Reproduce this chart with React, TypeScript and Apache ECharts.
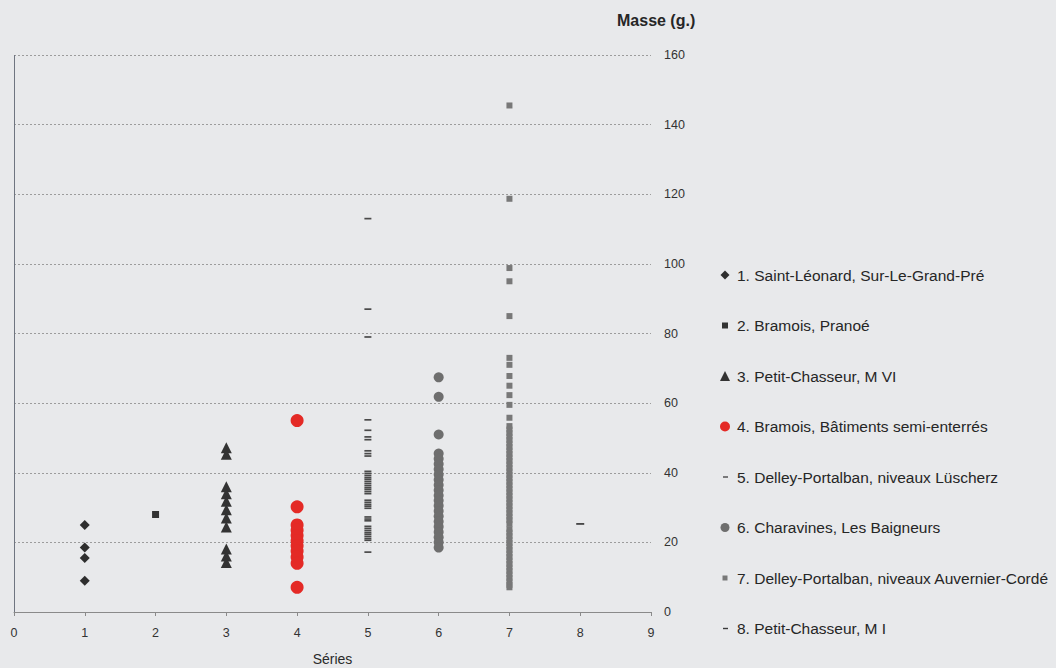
import React, { useEffect, useRef } from "react";
import * as echarts from "echarts";

const seriesNames = [
  "1. Saint-Léonard, Sur-Le-Grand-Pré",
  "2. Bramois, Pranoé",
  "3. Petit-Chasseur, M VI",
  "4. Bramois, Bâtiments semi-enterrés",
  "5. Delley-Portalban, niveaux Lüscherz",
  "6. Charavines, Les Baigneurs",
  "7. Delley-Portalban, niveaux Auvernier-Cordé",
  "8. Petit-Chasseur, M I",
];

const xTicks = [0, 1, 2, 3, 4, 5, 6, 7, 8, 9];
const yTicks = [0, 20, 40, 60, 80, 100, 120, 140, 160];

const masses1 = [25, 18.5, 15.5, 9];
const masses2 = [28];
const masses3 = [47.2, 45.3, 36, 34, 31.8, 29.4, 27, 24.4, 18.1, 16.1, 14.2];
const masses4 = [55, 30.2, 25, 23.5, 22, 20.5, 19, 17.5, 15.8, 14, 7.1];
const masses5 = [
  113, 87, 79, 55.2, 52.2, 50.3, 49.5, 46.3, 45.5, 44.8, 40.4, 39.8, 39.2,
  38.6, 38.1, 37.5, 36.9, 36.3, 35.7, 35.2, 34.6, 34, 32.1, 31.5, 30.9, 30.4,
  29.8, 27.3, 26.7, 26.2, 24.6, 24, 23.4, 22.8, 22.3, 21.7, 21.1, 20.6, 17.2,
];
const masses6 = [
  67.4, 61.8, 51, 45.5, 44, 42.5, 41, 39.5, 38, 36.5, 35, 33.5, 32, 30.5, 29,
  27.5, 26, 24.5, 23, 21.5, 20, 18.5,
];
const masses7 = [
  145.5, 118.7, 98.8, 95, 85, 73, 71, 67.8, 65, 62.3, 59.5, 55.8, 53.4, 52.4,
  51.4, 50.4, 49.4, 48.4, 47.4, 46.4, 45.4, 44.4, 43.4, 42.4, 41.4, 40.4, 39.4,
  38.4, 37.4, 36.4, 35.4, 34.4, 33.4, 32.4, 31.4, 30.4, 29.4, 28.4, 27.4, 26.4,
  25.4, 23.8, 22.8, 21.8, 20.8, 19.8, 18.8, 17.8, 16.8, 15.8, 14.8, 13.8, 12.8,
  11.8, 10.8, 9.8, 8.8, 7.8, 7.1,
];
const masses8 = [25.3];

const allMasses = [masses1, masses2, masses3, masses4, masses5, masses6, masses7, masses8];

const symbols: any[] = ["diamond", "rect", "triangle", "circle", "rect", "circle", "rect", "rect"];
const symbolSizes: any[] = [10, 7, 11, 13, [7, 1.7], 10, 6, [8, 1.7]];
const colors = ["#2e2e2e", "#333333", "#333333", "#e42a26", "#4a4a4a", "#6e6e6e", "#787878", "#3a3a3a"];

const legendIcons = [
  "path://M0,0M14,14M7,2.5L11.5,7L7,11.5L2.5,7Z",
  "path://M0,0M14,14M4,4h6v6h-6z",
  "path://M0,0M14,14M7,2L12,12H2Z",
  "path://M0,0M14,14M2,7a5,5 0 1,0 10,0a5,5 0 1,0 -10,0z",
  "path://M0,0M14,14M5,6.3h5v1.4h-5z",
  "path://M0,0M14,14M2.5,7a4.5,4.5 0 1,0 9,0a4.5,4.5 0 1,0 -9,0z",
  "path://M0,0M14,14M4.5,4.5h5v5h-5z",
  "path://M0,0M14,14M5,6.3h5v1.4h-5z",
];

const FONT = "'Liberation Sans', Arial, sans-serif";

export default function App() {
  const ref = useRef<HTMLDivElement>(null);
  useEffect(() => {
    if (!ref.current) return;
    const chart = echarts.init(ref.current, undefined, { renderer: "svg" });
    const series: any[] = allMasses.map((arr, i) => ({
      name: seriesNames[i],
      type: "scatter",
      symbol: symbols[i],
      symbolSize: symbolSizes[i],
      itemStyle: { color: colors[i], opacity: 1 },
      data: arr.map((v) => [i + 1, v]),
      z: i === 3 ? 3 : 2,
    }));
    series[0].markLine = {
      silent: true,
      symbol: "none",
      label: { show: false },
      lineStyle: { color: "#6f7580", width: 1, type: "solid" },
      data: [{ xAxis: xTicks[0] }],
    };
    chart.setOption({
      animation: false,
      backgroundColor: "#e8e9eb",
      textStyle: { fontFamily: FONT },
      grid: { left: 14, right: 405, top: 55, bottom: 56, outerBoundsMode: "none", containLabel: false },
      legend: {
        orient: "vertical",
        left: 718,
        top: 265,
        padding: 0,
        itemWidth: 14,
        itemHeight: 14,
        itemGap: 30.5,
        selectedMode: false,
        textStyle: { fontSize: 15.5, color: "#262626", fontFamily: FONT, lineHeight: 20 },
        data: seriesNames.map((n, i) => ({ name: n, icon: legendIcons[i], itemStyle: { color: colors[i] } })),
      },
      xAxis: {
        type: "value",
        min: xTicks[0],
        max: xTicks[xTicks.length - 1],
        interval: 1,
        name: "Séries",
        nameLocation: "middle",
        nameGap: 40,
        nameTextStyle: { fontSize: 14, color: "#2a2a2a", fontFamily: FONT },
        axisLine: { show: true, onZero: false, lineStyle: { color: "#8a8a8a", width: 1 } },
        axisTick: { show: true, length: 4, lineStyle: { color: "#8a8a8a" } },
        axisLabel: { fontSize: 12.5, color: "#333", margin: 14, fontFamily: FONT },
        splitLine: { show: false },
      },
      yAxis: {
        type: "value",
        position: "right",
        min: yTicks[0],
        max: yTicks[yTicks.length - 1],
        interval: 20,
        axisLine: { show: false },
        axisTick: { show: false },
        axisLabel: { fontSize: 12.5, color: "#333", margin: 13, fontFamily: FONT },
        splitLine: { show: true, lineStyle: { color: "#9c9c9c", type: [2, 2], width: 1 } },
      },
      graphic: [
        {
          type: "text",
          left: 617,
          top: 12,
          style: { text: "Masse (g.)", fontSize: 16, fontWeight: "bold", fill: "#262626", fontFamily: FONT },
        },
      ],
      series,
    });
    return () => chart.dispose();
  }, []);
  return <div ref={ref} style={{ position: "fixed", left: 0, top: 0, width: 1056, height: 668 }} />;
}
